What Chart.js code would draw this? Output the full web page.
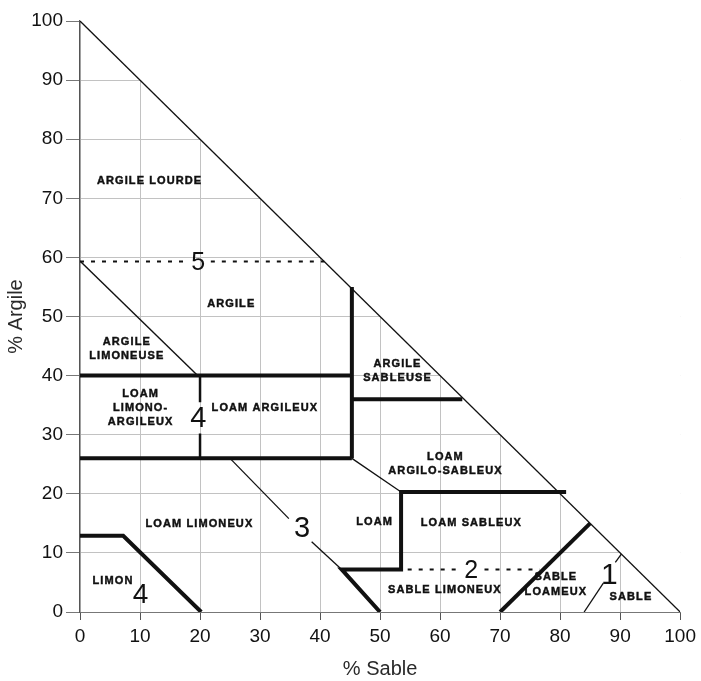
<!DOCTYPE html>
<html>
<head>
<meta charset="utf-8">
<title>Triangle des textures</title>
<script src="https://cdn.jsdelivr.net/npm/chart.js@4.4.1/dist/chart.umd.min.js"></script>
<style>
  html, body { margin: 0; padding: 0; background: #fff; }
  #wrap { width: 701px; height: 681px; }
</style>
</head>
<body>
<div id="wrap"><canvas id="triangle"></canvas></div>
<script>
// ── Données ──────────────────────────────────────────────────────────────────
const ticksSable  = [0, 10, 20, 30, 40, 50, 60, 70, 80, 90, 100];
const ticksArgile = [0, 10, 20, 30, 40, 50, 60, 70, 80, 90, 100];

// hypoténuse du triangle (sable + argile = 100)
const diagonale = [[0, 100], [100, 0]];

// limites principales (traits épais), points [sable, argile]
const limite40      = [[0, 40], [45.3, 40]];
const limite26      = [[0, 26], [45.3, 26]];
const limite45      = [[45.3, 55], [45.3, 26]];
const limite36      = [[45.3, 36], [63.7, 36]];
const limiteSableux = [[81, 20.3], [53.5, 20.3], [53.5, 7.2], [43.6, 7.2], [50, 0]];
const limiteLoameux = [[70, 0], [85, 15]];
const limiteLimon   = [[0, 12.9], [7.2, 12.9], [20.2, 0]];

// limites secondaires
const limite20a     = [[20, 40], [20, 35.5]];
const limite20b     = [[20, 30.2], [20, 26]];
const limiteArgLim  = [[0, 59.4], [19.6, 40]];
const limiteArgSab  = [[45.3, 26], [53.5, 20.3]];
const limiteLoamA   = [[25, 26], [34.8, 15.8]];
const limiteLoamB   = [[38.6, 11.9], [43.6, 7.2]];
const limiteSableA  = [[84, 0], [87.2, 4.9]];
const limiteSableB  = [[89.2, 8.4], [90.2, 9.8]];

// limites pointillées
const pointilles5a  = [[0, 59.3], [17.6, 59.3]];
const pointilles5b  = [[21.8, 59.3], [40.7, 59.3]];
const pointilles2a  = [[54.6, 7.2], [63.4, 7.2]];
const pointilles2b  = [[67.4, 7.2], [76.6, 7.2]];

// noms des classes texturales et leur position [sable, argile]
const nomsTextures   = ['ARGILE LOURDE', 'ARGILE', 'ARGILE\nLIMONEUSE', 'LOAM\nLIMONO-\nARGILEUX',
                        'LOAM ARGILEUX', 'ARGILE\nSABLEUSE', 'LOAM\nARGILO-SABLEUX', 'LOAM LIMONEUX',
                        'LOAM', 'LOAM SABLEUX', 'LIMON', 'SABLE LIMONEUX', 'SABLE\nLOAMEUX', 'SABLE'];
const sableTextures  = [11.6, 25.2, 7.8, 10.1, 30.8, 52.9, 60.9, 19.9, 49.1, 65.2, 5.5, 60.8, 79.3, 91.8];
const argileTextures = [73.0, 52.2, 44.5, 34.5, 34.6, 40.8, 25.0, 14.9, 15.2, 15.0, 5.3, 3.7, 4.65, 2.6];

// numéros des groupes
const chiffres       = ['5', '4', '3', '4', '2', '1'];
const sableChiffres  = [19.7, 19.7, 37.0, 10.1, 65.2, 88.2];
const argileChiffres = [59.0, 32.7, 14.0, 2.9, 7.0, 6.1];

// ── Styles ───────────────────────────────────────────────────────────────────
const NOIR = '#111111';
const taillesChiffres = [25, 29, 29, 28, 25, 30];

const pts = (arr) => arr.map(([x, y]) => ({ x, y }));

function trait(arr, width, dash) {
    return {
        data: pts(arr),
        showLine: true,
        borderColor: NOIR,
        borderWidth: width,
        borderDash: dash || [],
        borderCapStyle: 'butt',
        borderJoinStyle: 'miter',
        pointRadius: 0,
        fill: false,
        tension: 0,
    };
}

const datasets = [
    trait(limite40, 4), trait(limite26, 4), trait(limite45, 4), trait(limite36, 4),
    trait(limiteSableux, 4), trait(limiteLoameux, 4), trait(limiteLimon, 4),
    trait(limite20a, 2.5), trait(limite20b, 2.5),
    trait(limiteArgLim, 1.4), trait(limiteArgSab, 1.3), trait(limiteLoamA, 1.3),
    trait(limiteLoamB, 1.3), trait(limiteSableA, 1.3), trait(limiteSableB, 1.3),
    trait(pointilles5a, 2, [4, 7]), trait(pointilles5b, 2, [4, 7]),
    trait(pointilles2a, 2, [4, 7]), trait(pointilles2b, 2, [4, 7]),
    // hypoténuse en dernier : dessinée d'abord, elle masque la grille au-dessus
    Object.assign(trait(diagonale, 1.3), { fill: 'end', backgroundColor: '#ffffff' }),
];

// ── Étiquettes ───────────────────────────────────────────────────────────────
const etiquettes = {
    id: 'etiquettes',
    afterDatasetsDraw(chart) {
        const { ctx, scales: { x, y } } = chart;
        ctx.save();
        ctx.fillStyle = NOIR;
        ctx.strokeStyle = NOIR;
        ctx.lineWidth = 0.45;
        ctx.textAlign = 'center';
        ctx.textBaseline = 'middle';

        ctx.font = 'bold 11px "Liberation Sans", Arial, sans-serif';
        if ('letterSpacing' in ctx) ctx.letterSpacing = '1.1px';
        nomsTextures.forEach((nom, i) => {
            const lignes = nom.split('\n');
            const px = x.getPixelForValue(sableTextures[i]);
            const py = y.getPixelForValue(argileTextures[i]);
            const h = 14.3;
            lignes.forEach((l, k) => {
                const ly = py + (k - (lignes.length - 1) / 2) * h;
                ctx.fillText(l, px, ly);
                ctx.strokeText(l, px, ly);
            });
        });

        if ('letterSpacing' in ctx) ctx.letterSpacing = '0px';
        chiffres.forEach((c, i) => {
            ctx.font = taillesChiffres[i] + 'px "Liberation Sans", Arial, sans-serif';
            ctx.fillText(c, x.getPixelForValue(sableChiffres[i]), y.getPixelForValue(argileChiffres[i]));
        });
        ctx.restore();
    }
};

// ── Graphique ────────────────────────────────────────────────────────────────
const gridColor = (c) => (c.tick && c.tick.value === 100) ? 'rgba(0,0,0,0)' : '#c2c2c2';
const tickFont  = { family: '"Liberation Sans", Arial, sans-serif', size: 19 };
const titreFont = { family: '"Liberation Sans", Arial, sans-serif', size: 20 };

new Chart(document.getElementById('triangle'), {
    type: 'scatter',
    data: { datasets },
    options: {
        responsive: true,
        maintainAspectRatio: false,
        animation: false,
        layout: { padding: { top: 21, right: 18, bottom: 0, left: 0 } },
        plugins: {
            legend: { display: false },
            tooltip: { enabled: false },
        },
        scales: {
            x: {
                type: 'linear',
                min: 0, max: 100,
                afterBuildTicks: (s) => { s.ticks = ticksSable.map(v => ({ value: v })); },
                afterFit: (s) => { s.height = 69; },
                ticks: { font: tickFont, color: NOIR, padding: 5, maxRotation: 0 },
                grid: { color: gridColor, lineWidth: 1, tickLength: 8, tickColor: '#555' },
                border: { color: '#777', width: 1 },
                title: {
                    display: true, text: '% Sable', color: '#2a2a2a',
                    font: titreFont, padding: { top: 0, bottom: 0 }
                }
            },
            y: {
                type: 'linear',
                min: 0, max: 100,
                afterBuildTicks: (s) => { s.ticks = ticksArgile.map(v => ({ value: v })); },
                afterFit: (s) => { s.width = 80; },
                ticks: { font: tickFont, color: NOIR, padding: 3 },
                grid: { color: gridColor, lineWidth: 1, tickLength: 14, tickColor: '#777' },
                border: { color: '#555', width: 1.3 },
                title: {
                    display: true, text: '% Argile', color: '#2a2a2a',
                    font: titreFont, padding: { top: 4, bottom: 0 }
                }
            }
        }
    },
    plugins: [etiquettes]
});
</script>
</body>
</html>
